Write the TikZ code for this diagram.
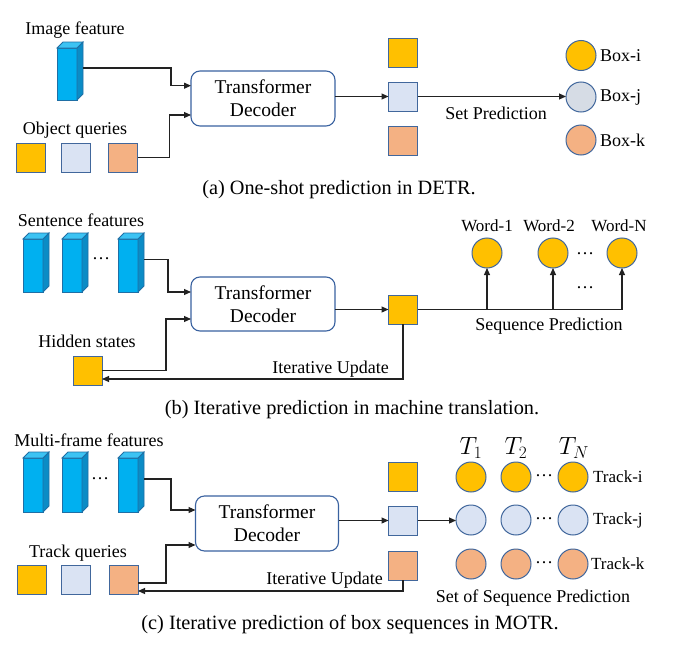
\documentclass[tikz,border=0pt]{standalone}
\usepackage{fontspec}
\setmainfont{Liberation Serif}
\usetikzlibrary{arrows.meta,calc}
\definecolor{gold}{HTML}{FFC000}
\definecolor{lblue}{HTML}{DAE3F3}
\definecolor{gblue}{HTML}{D6DCE5}
\definecolor{peach}{HTML}{F4B183}
\definecolor{edgeb}{HTML}{41679C}
\definecolor{tdedge}{HTML}{3A62A0}
\definecolor{cfront}{HTML}{00B0F0}
\definecolor{cside}{HTML}{0B8CC6}
\definecolor{ctop}{HTML}{3CC3F3}
\definecolor{cedge}{HTML}{1F6FA5}
\definecolor{linec}{HTML}{222222}
\tikzset{
  sq/.style={draw=edgeb,line width=1pt,minimum size=29pt,inner sep=0pt,outer sep=0pt},
  circ/.style={circle,draw=edgeb,line width=1pt,minimum size=30pt,inner sep=0pt,outer sep=0pt},
  tdbox/.style={draw=tdedge,line width=1.1pt,rounded corners=9pt,minimum width=144pt,minimum height=55pt,align=center,font=\fontsize{19.5}{23}\selectfont,inner sep=0pt,outer sep=0pt},
  lab/.style={font=\fontsize{18}{20}\selectfont,inner sep=0pt},
  slab/.style={font=\fontsize{17}{20}\selectfont,inner sep=0pt},
  captxt/.style={font=\fontsize{20.3}{22}\selectfont,inner sep=0pt},
  tlab/.style={font=\fontsize{24}{26}\selectfont,inner sep=0pt},
  arr/.style={draw=linec,line width=1.1pt,-{Triangle[length=7pt,width=6pt]}},
  ln/.style={draw=linec,line width=1.1pt},
  cubefront/.style={draw=cedge,fill=cfront,line width=0.8pt,minimum width=20pt,minimum height=#1,inner sep=0pt,outer sep=0pt},
}
\newcommand\featcube[4]{%
  \node[cubefront=#4,anchor=north west] (#1) at (#2,#3) {};
  \filldraw[draw=cedge,fill=cside,line width=0.8pt] (#1.north east) -- ++(6,-6) -- ($(#1.south east)+(6,-6)$) -- (#1.south east) -- cycle;
  \filldraw[draw=cedge,fill=ctop,line width=0.8pt] (#1.north west) -- ++(6,-6) -- ($(#1.north east)+(6,-6)$) -- (#1.north east) -- cycle;
  \coordinate (#1s) at ($(#1.east)+(6,-6)$);
}
\begin{document}
\begin{tikzpicture}[x=1pt,y=-1pt]
\useasboundingbox (0,0) rectangle (681,645);
\fill[white] (0,0) rectangle (681,645);

% ---------------- (a) ----------------
\node[lab] (la1) at (75,30) {Image feature};
\featcube{ca}{57}{48}{52pt}
\node[lab] (la2) at (75,130) {Object queries};
\node[sq,fill=gold]  (qa1) at (31,157.5) {};
\node[sq,fill=lblue] (qa2) at (75.5,157.5) {};
\node[sq,fill=peach] (qa3) at (123,157.5) {};
\node[tdbox] (tda) at (263,98.5) {Transformer\\Decoder};
\node[sq,fill=gold]  (oa1) at (403,52.5) {};
\node[sq,fill=lblue] (oa2) at (403,96.5) {};
\node[sq,fill=peach] (oa3) at (403,140.5) {};
\node[circ,fill=gold]  (ba1) at (581,55.5) {};
\node[circ,fill=gblue] (ba2) at (581,97) {};
\node[circ,fill=peach] (ba3) at (581,140) {};
\node[lab,anchor=west] (bla1) at ([xshift=4pt]ba1.east) {Box-i};
\node[lab,anchor=west] (bla2) at ([xshift=4pt]ba2.east) {Box-j};
\node[lab,anchor=west] (bla3) at ([xshift=4pt]ba3.east) {Box-k};
\node[lab] (spa) at (496,113) {Set Prediction};
\node[captxt] (capa) at (339,190) {(a) One-shot prediction in DETR.};
\draw[arr] (cas) -- ++(88,0) |- ([yshift=12.8pt]tda.west);
\draw[arr] (qa3.east) -- ++(32,0) |- ([yshift=-16.5pt]tda.west);
\draw[arr] (tda.east |- oa2.west) -- (oa2.west);
\draw[arr] (oa2.east) -- (ba2.west |- oa2.east);

% ---------------- (b) ----------------
\node[lab] (lb1) at (81,220) {Sentence features};
\featcube{cb1}{23}{239}{53pt}
\featcube{cb2}{62}{239}{53pt}
\featcube{cb3}{118}{239}{53pt}
\node[lab] (db) at (101,259) {\ldots};
\node[tdbox,minimum height=54pt] (tdb) at (263,304) {Transformer\\Decoder};
\node[lab] (lb2) at (87,341) {Hidden states};
\node[sq,fill=gold] (hid) at (87.5,370.5) {};
\node[sq,fill=gold] (ob) at (403,309.5) {};
\node[circ,fill=gold] (w1) at (487,253) {};
\node[circ,fill=gold] (w2) at (553,253) {};
\node[circ,fill=gold] (w3) at (622,253) {};
\node[slab] (wl1) at (487,226) {Word-1};
\node[slab] (wl2) at (549,226) {Word-2};
\node[slab] (wl3) at (619,226) {Word-N};
\node[lab] (dw1) at (585,254) {\ldots};
\node[lab] (dw2) at (585,288) {\ldots};
\node[lab] (sqp) at (549,326) {Sequence Prediction};
\node[lab,anchor=east] (iub) at (389,369) {Iterative Update};
\node[captxt] (capb) at (352,410) {(b) Iterative prediction in machine translation.};
\draw[arr] (cb3s) -- ++(24,0) |- ([yshift=12pt]tdb.west);
\draw[arr] (hid.east) -- ++(64,0) |- ([yshift=-15pt]tdb.west);
\draw[arr] (tdb.east |- ob.west) -- (ob.west);
\draw[ln] (ob.east) -- (w3.south |- ob.east);
\draw[arr] (w1.south |- ob.east) -- (w1.south);
\draw[arr] (w2.south |- ob.east) -- (w2.south);
\draw[arr] (w3.south |- ob.east) -- (w3.south);
\draw[arr] (ob.south) |- ([yshift=-8.5pt]hid.east);

% ---------------- (c) ----------------
\node[lab] (lc1) at (89,440) {Multi-frame features};
\featcube{cc1}{23}{458}{54pt}
\featcube{cc2}{62}{458}{54pt}
\featcube{cc3}{118}{458}{54pt}
\node[lab] (dc) at (100,479) {\ldots};
\node[tdbox,minimum width=143pt] (tdc) at (267,523.5) {Transformer\\Decoder};
\node[lab] (lc2) at (78,553) {Track queries};
\node[sq,fill=gold]  (qc1) at (31.5,579.5) {};
\node[sq,fill=lblue] (qc2) at (75.5,579.5) {};
\node[sq,fill=peach] (qc3) at (123.5,579.5) {};
\node[sq,fill=gold]  (oc1) at (403,477) {};
\node[sq,fill=lblue] (oc2) at (403,520.5) {};
\node[sq,fill=peach] (oc3) at (403,565.5) {};
\foreach \c/\x in {1/471,2/516,3/573}{
  \node[circ,fill=gold]  (t\c1) at (\x,477) {};
  \node[circ,fill=lblue] (t\c2) at (\x,520) {};
  \node[circ,fill=peach] (t\c3) at (\x,564) {};
}
\node[lab] (dt1) at (544,476) {\ldots};
\node[lab] (dt2) at (544,519) {\ldots};
\node[lab] (dt3) at (544,563) {\ldots};
\node[tlab] (T1) at (471,448) {$T_1$};
\node[tlab] (T2) at (516,448) {$T_2$};
\node[tlab] (TN) at (574,448) {$T_N$};
\node[slab,anchor=west] (tk1) at ([xshift=5pt]t31.east) {Track-i};
\node[slab,anchor=west] (tk2) at ([xshift=5pt]t32.east) {Track-j};
\node[slab,anchor=west] (tk3) at ([xshift=3pt]t33.east) {Track-k};
\node[lab] (ssp) at (533,598) {Set of Sequence Prediction};
\node[lab,anchor=east] (iuc) at (383,580) {Iterative Update};
\node[captxt] (capc) at (350,625) {(c) Iterative prediction of box sequences in MOTR.};
\draw[arr] (cc3s) -- ++(27,0) |- ([yshift=13.5pt]tdc.west);
\draw[arr] ([yshift=-3.5pt]qc3.east) -- ++(28,0) |- ([yshift=-21.5pt]tdc.west);
\draw[arr] (tdc.east |- oc2.west) -- (oc2.west);
\draw[arr] (oc2.east) -- (t12.west |- oc2.east);
\draw[arr] (oc3.south) |- ([yshift=-11.5pt]qc3.east);
\end{tikzpicture}
\end{document}
